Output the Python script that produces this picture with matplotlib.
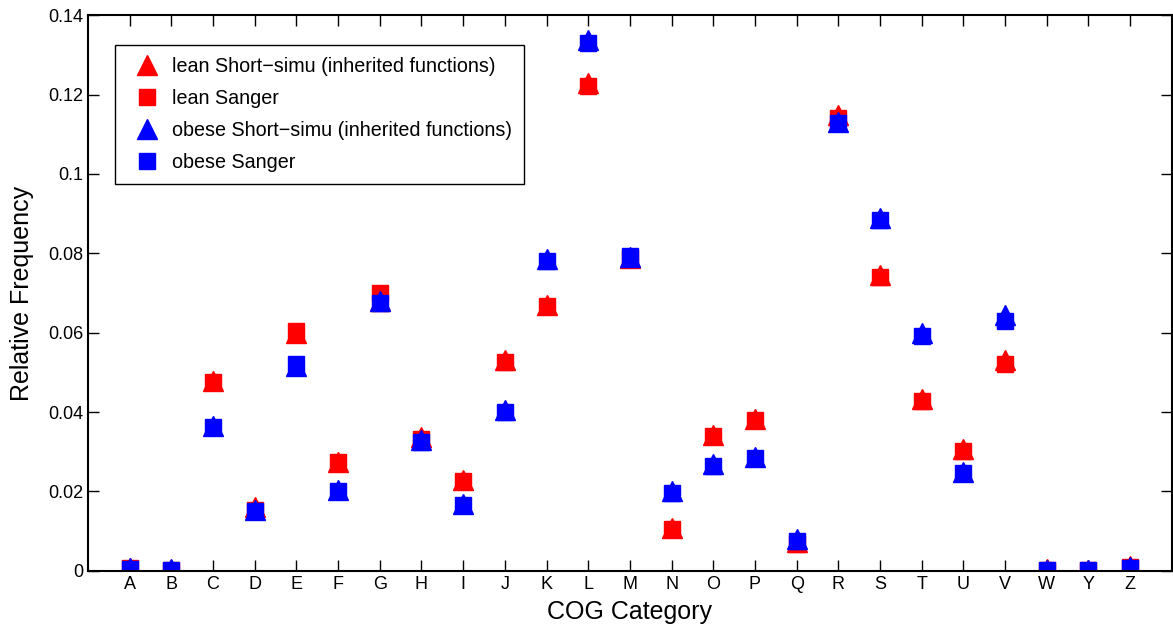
import matplotlib.pyplot as plt
import numpy as np
from matplotlib.ticker import FuncFormatter

plt.rcParams['font.family'] = ['Liberation Sans', 'DejaVu Sans']

# COG categories
categories = ['A', 'B', 'C', 'D', 'E', 'F', 'G', 'H', 'I', 'J', 'K', 'L', 'M',
              'N', 'O', 'P', 'Q', 'R', 'S', 'T', 'U', 'V', 'W', 'Y', 'Z']

# values
lean_short = [0.0008, 0.0003, 0.0478, 0.0160, 0.0600, 0.0275, 0.0680, 0.0337,
              0.0228, 0.0530, 0.0670, 0.1228, 0.0788, 0.0108, 0.0343, 0.0382,
              0.0072, 0.1148, 0.0745, 0.0433, 0.0307, 0.0530, 0.0004, 0.0003, 0.0012]
lean_sanger = [0.0006, 0.0002, 0.0476, 0.0154, 0.0603, 0.0275, 0.0700, 0.0333,
               0.0226, 0.0527, 0.0668, 0.1222, 0.0788, 0.0106, 0.0340, 0.0380,
               0.0068, 0.1140, 0.0740, 0.0427, 0.0303, 0.0522, 0.0002, 0.0002, 0.0010]
obese_short = [0.0007, 0.0004, 0.0364, 0.0152, 0.0515, 0.0204, 0.0680, 0.0330,
               0.0168, 0.0405, 0.0785, 0.1337, 0.0790, 0.0200, 0.0268, 0.0287,
               0.0080, 0.1130, 0.0890, 0.0598, 0.0250, 0.0645, 0.0003, 0.0003, 0.0010]
obese_sanger = [0.0005, 0.0003, 0.0362, 0.0150, 0.0522, 0.0200, 0.0675, 0.0325,
                0.0166, 0.0400, 0.0780, 0.1330, 0.0792, 0.0197, 0.0265, 0.0283,
                0.0076, 0.1128, 0.0884, 0.0592, 0.0246, 0.0630, 0.0002, 0.0002, 0.0008]

x = np.arange(1, len(categories) + 1)

fig = plt.figure(figsize=(11.73, 6.3), dpi=100)
ax = fig.add_axes([0.075, 0.094, 0.924, 0.882])

ax.plot(x, lean_short, '^', color='red', markersize=15, linestyle='none',
        label='lean Short\u2212simu (inherited functions)')
ax.plot(x, lean_sanger, 's', color='red', markersize=11, linestyle='none',
        label='lean Sanger')
ax.plot(x, obese_short, '^', color='blue', markersize=15, linestyle='none',
        label='obese Short\u2212simu (inherited functions)')
ax.plot(x, obese_sanger, 's', color='blue', markersize=11, linestyle='none',
        label='obese Sanger')

ax.set_xlim(0, 26)
ax.set_ylim(0, 0.14)
ax.set_xticks(x)
ax.set_xticklabels(categories)
ax.set_yticks(np.arange(0, 0.141, 0.02))
ax.yaxis.set_major_formatter(FuncFormatter(lambda v, p: '%g' % round(v, 2)))
ax.tick_params(direction='in', length=8, width=1, top=True, right=True,
               labelsize=13)
for s in ax.spines.values():
    s.set_linewidth(1.5)

ax.set_xlabel('COG Category', fontsize=18, labelpad=5)
ax.set_ylabel('Relative Frequency', fontsize=18, labelpad=10)

leg = ax.legend(loc='upper left', bbox_to_anchor=(0.025, 0.946),
                borderaxespad=0, fancybox=False, edgecolor='black',
                fontsize=14.2, labelspacing=0.66, handletextpad=0.3,
                borderpad=0.6, framealpha=1)
leg.get_frame().set_linewidth(1.0)

fig.savefig('out.png', dpi=100)
